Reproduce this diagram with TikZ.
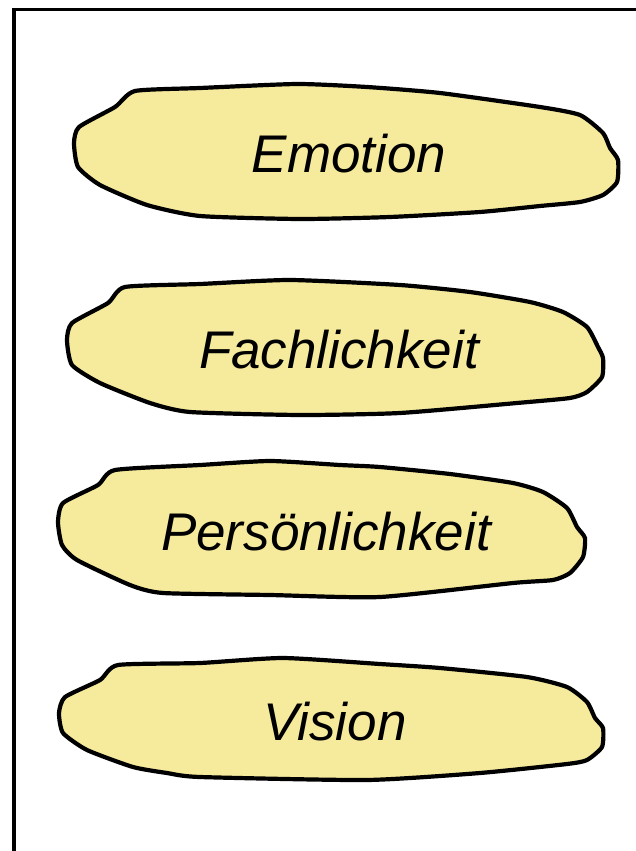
\documentclass[tikz,border=0pt]{standalone}
\usepackage{fontspec}
\setmainfont{Liberation Sans}
\definecolor{blobfill}{RGB}{246,234,157}
\begin{document}
\begin{tikzpicture}[x=1pt,y=-1pt,
  blob/.style={draw=black,fill=blobfill,line width=4.2pt,line join=round},
  frameline/.style={draw=black,line width=3.6pt},
  lbl/.style={anchor=base,inner sep=0pt,font=\fontsize{53}{60}\itshape\selectfont}]
\useasboundingbox (0,0) rectangle (636,851);
\draw[frameline] (14,851) -- (14,9.5) -- (636,9.5);
\path[blob] plot[smooth cycle,tension=0.35] coordinates {
(135,91) (200,88) (297,84) (367,87) (440,93) (540,107) (580,115) (603,133) (610,148) (618,160) (617,182) (603,195) (580,202) (540,206) (480,212) (390,217) (300,219) (200,216) (147,205) (100,185) (78,167) (74,143) (79,127) (115,107)};
\path[blob] plot[smooth cycle,tension=0.35] coordinates {
(125,287) (200,284) (290,280) (400,285) (470,292) (530,302) (563,312) (587,327) (598,347) (603,358) (602,377) (587,392) (570,398) (517,403) (400,413) (300,415) (190,412) (150,403) (100,383) (72,365) (67,340) (72,323) (108,303)};
\path[blob] plot[smooth cycle,tension=0.35] coordinates {
(115,470) (200,465) (270,461) (340,465) (380,467) (450,474) (513,483) (543,492) (567,508) (577,527) (585,538) (583,557) (570,573) (553,580) (513,583) (380,597) (270,595) (163,593) (130,585) (77,560) (62,545) (58,522) (63,503) (98,485)};
\path[blob] plot[smooth cycle,tension=0.35] coordinates {
(118,665) (200,663) (283,658) (380,664) (440,668) (527,677) (567,687) (587,702) (595,718) (603,728) (602,747) (587,760) (567,764) (480,773) (367,780) (200,777) (167,773) (133,767) (87,750) (63,733) (59,713) (65,697) (100,680)};
\node[lbl] (emotion) at (349,172) {Emotion};
\node[lbl] (fach) at (339,368) {Fachlichkeit};
\node[lbl] (pers) at (326,550) {Persönlichkeit};
\node[lbl] (vision) at (335,740) {Vision};
\end{tikzpicture}
\end{document}
